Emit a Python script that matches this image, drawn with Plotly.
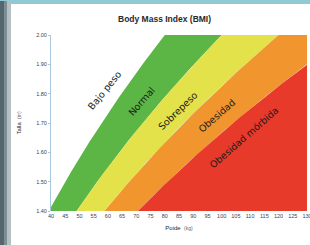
import numpy as np
import plotly.graph_objects as go

# Data
bmi_limits = [20, 25, 30, 36]          # band boundaries (BMI)
band_names = ["Normal", "Sobrepeso", "Obesidad", "Obesidad mórbida"]
band_colors = ["#5cb646", "#e3e24a", "#f1962f", "#e83a2b"]
x_ticks = list(range(40, 131, 5))
y_ticks = [1.40, 1.50, 1.60, 1.70, 1.80, 1.90, 2.00]

h = np.linspace(1.40, 2.00, 241)
upper = bmi_limits[1:] + [80]

fig = go.Figure()
for lo, hi, name, col in zip(bmi_limits, upper, band_names, band_colors):
    xs = np.concatenate([lo * h**2, (hi * h**2)[::-1]])
    ys = np.concatenate([h, h[::-1]])
    fig.add_trace(go.Scatter(x=xs, y=ys, mode="lines", fill="toself",
                             fillcolor=col, line=dict(width=0, color=col),
                             hoverinfo="skip", showlegend=False, name=name))

lab_font = dict(family="DejaVu Sans", size=9.5, color="#1a1a1a")
labels = [("Bajo peso", 58.7, 1.812, -51), ("Normal", 71.7, 1.775, -49),
          ("Sobrepeso", 84.7, 1.741, -44), ("Obesidad", 98.3, 1.727, -41),
          ("Obesidad mórbida", 107.8, 1.652, -41)]
for t, x, y, a in labels:
    fig.add_annotation(x=x, y=y, text=t, showarrow=False, textangle=a, font=lab_font)

fig.add_annotation(xref="paper", yref="paper", x=0.445, y=1.0, yshift=23,
                   text="<b>Body Mass Index (BMI)</b>", showarrow=False,
                   font=dict(family="Liberation Sans", size=8.5, color="#2a2a2a"))

# background decorations (photo frame)
fig.add_shape(type="rect", xref="paper", yref="paper", xsizemode="pixel", ysizemode="pixel",
              xanchor=0, yanchor=1, x0=-60, x1=270, y0=31, y1=40, fillcolor="#8fcbd2",
              line_width=0, layer="below")
for x0, x1, c in [(-51, -47, "#55666c"), (-47, -44, "#7d8e94"), (-44, -40, "#b3c0c4")]:
    fig.add_shape(type="rect", xref="paper", yref="paper", xsizemode="pixel", ysizemode="pixel",
                  xanchor=0, yanchor=0, x0=x0, x1=x1, y0=-40, y1=210, fillcolor=c,
                  line_width=0, layer="below")

tick_font = dict(family="Liberation Sans", size=5.5, color="#3a4450")
fig.update_xaxes(range=[40, 130], tickvals=x_ticks, showgrid=False, zeroline=False,
                 showline=False, ticks="", tickfont=tick_font, automargin=False,
                 ticklabeloverflow="allow",
                 title=dict(text="Poide  <span style='font-size:5px;color:#666'>(kg)</span>",
                            font=dict(family="Liberation Sans", size=6, color="#222"), standoff=8))
fig.update_yaxes(range=[1.40, 2.00], tickvals=y_ticks, ticktext=[f"{v:.2f}" for v in y_ticks],
                 showgrid=False, zeroline=False, showline=True, linecolor="#a8c8dc", linewidth=1,
                 ticks="outside", ticklen=2, tickcolor="#a8c8dc", tickfont=tick_font,
                 automargin=False,
                 title=dict(text="Talla  <span style='font-size:5px;color:#666'>(m)</span>",
                            font=dict(family="Liberation Sans", size=6, color="#222"), standoff=14))

fig.update_layout(width=310, height=245, margin=dict(l=51, r=3, t=35, b=34),
                  paper_bgcolor="white", plot_bgcolor="white", showlegend=False)
fig.write_html("out.html", config={"displayModeBar": False},
               post_script="document.body.style.margin='0';document.body.style.overflow='hidden';")
